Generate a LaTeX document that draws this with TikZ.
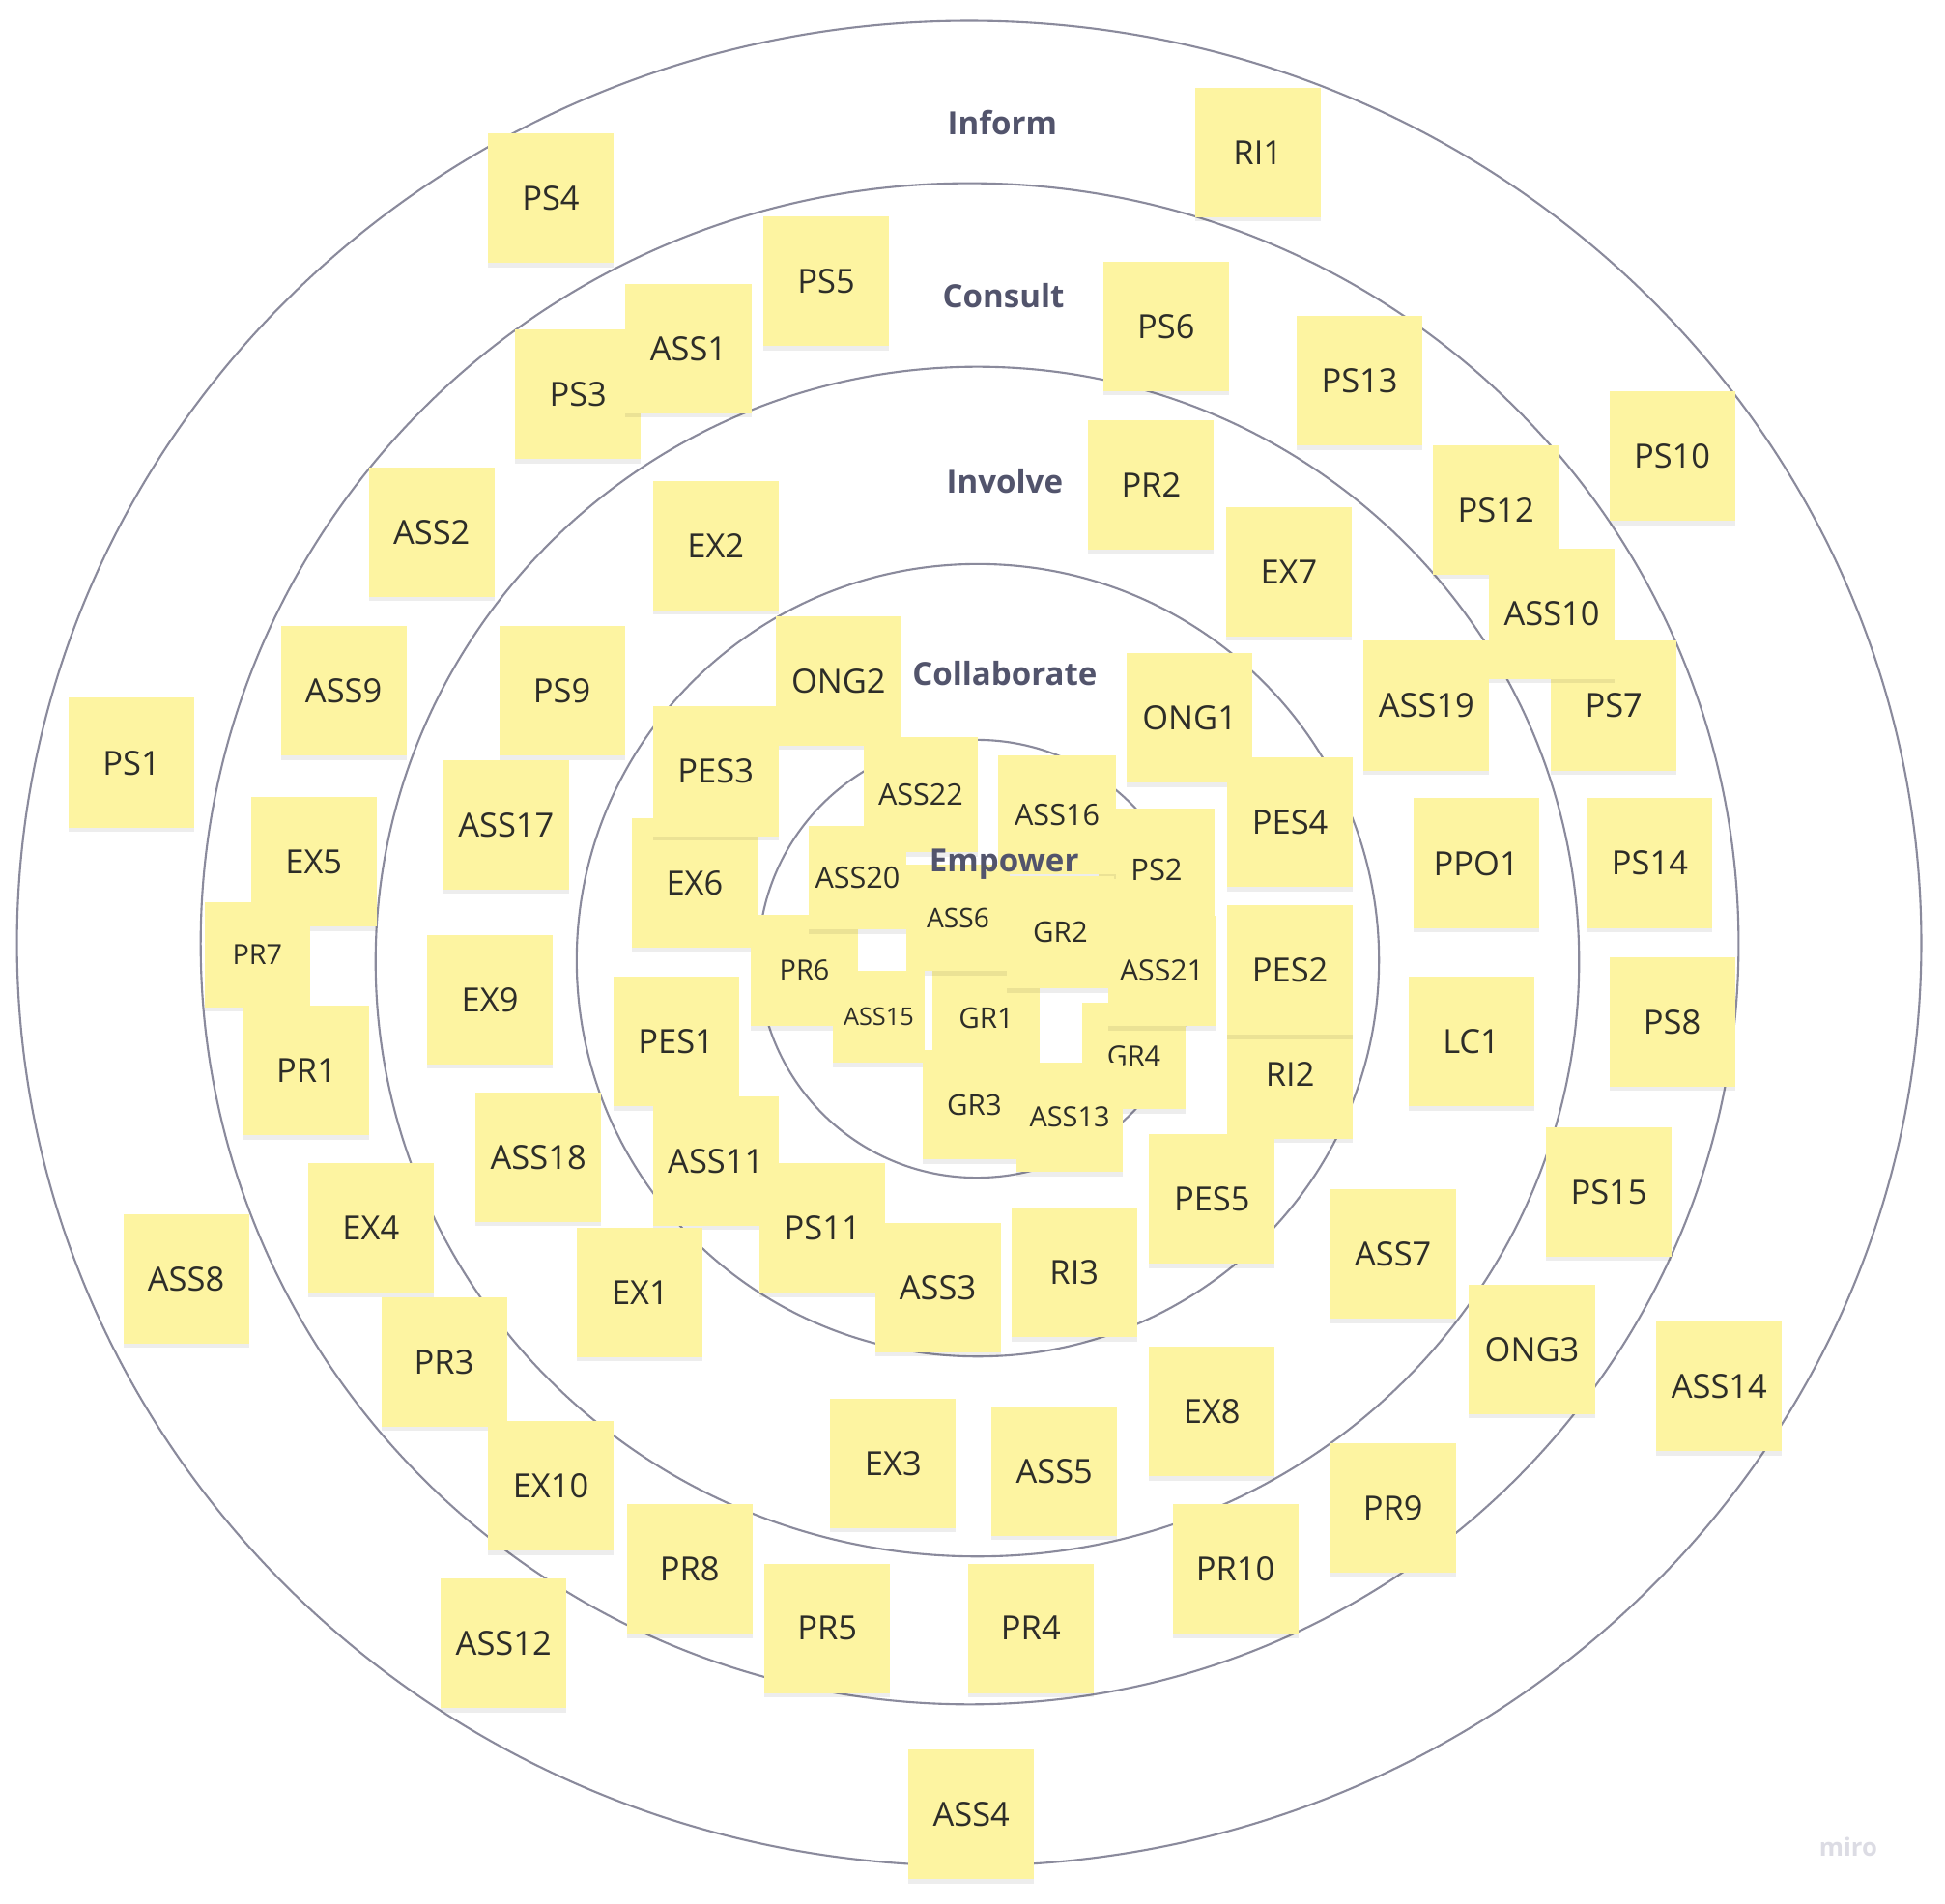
\documentclass[tikz,border=0pt]{standalone}
\usepackage{fontspec}
\setmainfont{Open Sans}
\usetikzlibrary{shadows}
\definecolor{noteY}{RGB}{253,244,161}
\definecolor{noteT}{RGB}{45,45,40}
\definecolor{ringC}{RGB}{138,138,156}
\definecolor{lblC}{RGB}{82,84,108}
\definecolor{miroC}{RGB}{220,220,228}
\begin{document}
\begin{tikzpicture}[x=0.012838cm, y=-0.012838cm,
  note/.style={rectangle, fill=noteY, text=noteT, inner sep=0pt,
    minimum width=1.30cm, minimum height=1.34cm, text depth=0pt,
    font=\fontsize{9.8}{11}\selectfont,
    drop shadow={shadow xshift=0pt, shadow yshift=-1.3pt, opacity=0.07, fill=black}},
  cnote/.style={note, font=\fontsize{8.7}{10}\selectfont},
  ring/.style={draw=ringC, line width=0.6pt},
  lbl/.style={text=lblC, inner sep=0pt, text depth=0pt, font=\bfseries\fontsize{9.4}{11}\selectfont}]
\useasboundingbox (0,0) rectangle (1568,1535);
\fill[white] (0,0) rectangle (1568,1535);
% rings
\draw[ring] (781.3,760.6) ellipse [x radius=9.85cm, y radius=9.545cm];
\draw[ring] (781.7,761.0) ellipse [x radius=7.955cm, y radius=7.87cm];
\draw[ring] (787.9,775.4) ellipse [x radius=6.225cm, y radius=6.155cm];
\draw[ring] (788.3,774.3) ellipse [x radius=4.15cm, y radius=4.10cm];
\draw[ring] (787.5,773.1) ellipse [x radius=2.26cm, y radius=2.265cm];
% outer and middle notes
\node[note] (PS4) at (444,160) {PS4};
\node[note] (RI1) at (1014,123) {RI1};
\node[note] (PS5) at (666,227) {PS5};
\node[note] (PS3) at (466,318) {PS3};
\node[note] (ASS1) at (555,281) {ASS1};
\node[note] (PS6) at (940,263) {PS6};
\node[note] (PS13) at (1096,307) {PS13};
\node[note] (PS10) at (1348,368) {PS10};
\node[note] (PR2) at (928,391) {PR2};
\node[note] (PS12) at (1206,411) {PS12};
\node[note] (PS7) at (1301,569) {PS7};
\node[note] (ASS10) at (1251,495) {ASS10};
\node[note] (ASS2) at (348,429) {ASS2};
\node[note] (EX2) at (577,440) {EX2};
\node[note] (EX7) at (1039,461) {EX7};
\node[note] (ASS9) at (277,557) {ASS9};
\node[note] (PS9) at (453,557) {PS9};
\node[note] (ONG2) at (676,549) {ONG2};
\node[note] (ONG1) at (959,579) {ONG1};
\node[note] (ASS19) at (1150,569) {ASS19};
\node[note] (PS1) at (106,615) {PS1};
\node[note] (EX6) at (560,712) {EX6};
\node[note] (PES3) at (577,622) {PES3};
\node[note] (ASS17) at (408,665) {ASS17};
\node[note] (EX5) at (253,695) {EX5};
\node[note, minimum width=1.09cm, minimum height=1.08cm, font=\fontsize{8.2}{10}\selectfont] (PR7) at (207.5,770) {PR7};
\node[note] (PR1) at (247,863) {PR1};
\node[note] (EX9) at (395,806) {EX9};
\node[note] (PPO1) at (1190,696) {PPO1};
\node[note] (PS14) at (1330,696) {PS14};
\node[note] (RI2) at (1040,866) {RI2};
\node[note] (PES2) at (1040,782) {PES2};
\node[note] (PES4) at (1040,663) {PES4};
\node[note] (LC1) at (1186,840) {LC1};
\node[note] (PS8) at (1348,824) {PS8};
\node[note] (PES1) at (545,840) {PES1};
\node[note] (ASS11) at (577,936) {ASS11};
\node[note] (PS11) at (663,990) {PS11};
\node[note] (ASS3) at (756,1038) {ASS3};
\node[note] (ASS18) at (434,933) {ASS18};
\node[note] (PES5) at (977,967) {PES5};
\node[note] (PS15) at (1297,961) {PS15};
\node[note] (EX4) at (299,990) {EX4};
\node[note] (ASS8) at (150,1031) {ASS8};
\node[note] (EX1) at (516,1042) {EX1};
\node[note] (RI3) at (866,1026) {RI3};
\node[note] (ASS7) at (1123,1011) {ASS7};
\node[note] (ONG3) at (1235,1088) {ONG3};
\node[note] (ASS14) at (1386,1118) {ASS14};
\node[note] (PR3) at (358,1098) {PR3};
\node[note] (EX8) at (977,1138) {EX8};
\node[note] (EX3) at (720,1180) {EX3};
\node[note] (ASS5) at (850,1186) {ASS5};
\node[note] (EX10) at (444,1198) {EX10};
\node[note] (PR9) at (1123,1216) {PR9};
\node[note] (PR8) at (556,1265) {PR8};
\node[note] (PR10) at (996,1265) {PR10};
\node[note] (PR5) at (667,1313) {PR5};
\node[note] (PR4) at (831,1313) {PR4};
\node[note] (ASS12) at (406,1325) {ASS12};
\node[note] (ASS4) at (783,1463) {ASS4};
% centre cluster
\node[cnote, minimum width=1.18cm, minimum height=1.19cm] (ASS22) at (742.3,640.7) {ASS22};
\node[cnote, minimum width=1.20cm, minimum height=1.26cm, font=\fontsize{8.8}{10}\selectfont] (PS2) at (932.4,701.0) {PS2};
\node[cnote, minimum width=1.22cm, minimum height=1.23cm] (ASS16) at (852.2,657.0) {ASS16};
\node[cnote, minimum width=1.11cm, minimum height=1.15cm, font=\fontsize{8.2}{10}\selectfont] (PR6) at (648.5,782.4) {PR6};
\node[cnote, minimum width=1.01cm, minimum height=1.07cm] (ASS20) at (691.3,707.7) {ASS20};
\node[cnote, minimum width=1.11cm, minimum height=1.12cm, font=\fontsize{8.4}{10}\selectfont] (GR1) at (795.1,820.5) {GR1};
\node[cnote, minimum width=1.07cm, minimum height=1.10cm, font=\fontsize{8.0}{10}\selectfont] (ASS6) at (772.3,740.0) {ASS6};
\node[cnote, minimum width=1.11cm, minimum height=1.16cm, font=\fontsize{8.4}{10}\selectfont] (GR2) at (854.9,751.7) {GR2};
\node[cnote, minimum width=1.07cm, minimum height=1.10cm, font=\fontsize{8.2}{10}\selectfont] (GR4) at (914.1,851.4) {GR4};
\node[cnote, minimum width=1.11cm, minimum height=1.14cm, font=\fontsize{8.6}{10}\selectfont] (ASS21) at (936.7,782.8) {ASS21};
\node[cnote, minimum width=0.95cm, minimum height=0.95cm, font=\fontsize{7.2}{9}\selectfont] (ASS15) at (708.4,819.8) {ASS15};
\node[cnote, minimum width=1.07cm, minimum height=1.13cm, font=\fontsize{8.4}{10}\selectfont] (GR3) at (785.6,890.7) {GR3};
\node[cnote, minimum width=1.10cm, minimum height=1.13cm, font=\fontsize{8.2}{10}\selectfont] (ASS13) at (862.3,900.8) {ASS13};
% ring labels
\node[lbl] (inform) at (808,99) {Inform};
\node[lbl] (consult) at (809,238) {Consult};
\node[lbl] (involve) at (810,388) {Involve};
\node[lbl] (collab) at (810,543) {Collaborate};
\node[lbl] (empower) at (809.5,694) {Empower};
\node[text=miroC, inner sep=0pt, font=\bfseries\fontsize{7.3}{9}\selectfont] (miro) at (1490,1489) {miro};
\end{tikzpicture}
\end{document}
